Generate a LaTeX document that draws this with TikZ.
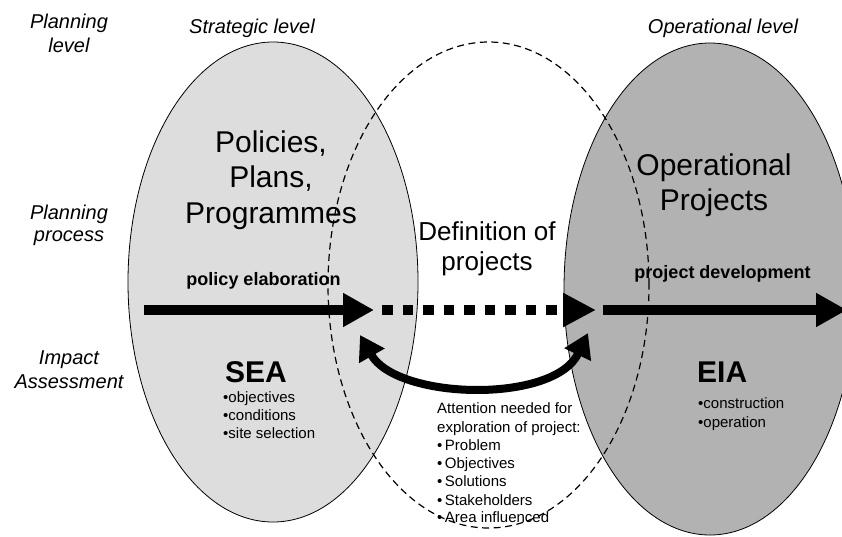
\documentclass[tikz,border=0pt]{standalone}
\usepackage{fontspec}
\setmainfont{Liberation Sans}
\usetikzlibrary{arrows.meta,shapes.geometric}
\definecolor{lightfill}{RGB}{221,221,221}
\definecolor{darkfill}{RGB}{178,178,178}
\tikzset{
  oval/.style={ellipse, draw=black, line width=0.8pt, inner sep=0pt},
  dashoval/.style={ellipse, draw=black, line width=1.2pt, dash pattern=on 7pt off 4.5pt, inner sep=0pt},
  sidelbl/.style={anchor=base, inner sep=0pt, font=\fontsize{20}{23}\selectfont\itshape},
  bigtxt/.style={anchor=base, inner sep=0pt, font=\fontsize{30}{35}\selectfont},
  midtxt/.style={anchor=base, inner sep=0pt, font=\fontsize{26}{30}\selectfont},
  arrlbl/.style={anchor=base, inner sep=0pt, font=\fontsize{18}{21}\selectfont\bfseries},
  boldbig/.style={anchor=base west, inner sep=0pt, font=\fontsize{30}{35}\selectfont\bfseries},
  smalltxt/.style={anchor=base west, inner sep=0pt, font=\fontsize{15}{18}\selectfont},
  mainarrow/.style={line width=10pt, -{Triangle[length=31pt,width=32pt]}},
  dotarrow/.style={line width=10pt, dash pattern=on 10.5pt off 10pt, -{Triangle[length=33pt,width=32pt]}},
  bendarrow/.style={line width=8pt, {Triangle[length=24pt,width=28pt]}-{Triangle[length=24pt,width=28pt]}}
}
\begin{document}
\begin{tikzpicture}[x=1pt,y=-1pt]
\useasboundingbox (0,0) rectangle (842,536);
% ellipses
\node[oval, fill=lightfill, minimum width=290pt, minimum height=480pt] (sea) at (273,282) {};
\node[oval, fill=darkfill, minimum width=292pt, minimum height=492pt] (eia) at (710,289) {};
% side labels
\node[sidelbl] (pl1) at (69,28) {Planning};
\node[sidelbl] (pl2) at (69,52) {level};
\node[sidelbl] (pp1) at (69,219) {Planning};
\node[sidelbl] (pp2) at (69,241) {process};
\node[sidelbl] (ia1) at (69,364) {Impact};
\node[sidelbl] (ia2) at (69,388) {Assessment};
\node[sidelbl] (strat) at (252,33) {Strategic level};
\node[sidelbl] (oper) at (723,33) {Operational level};
% big texts
\node[bigtxt] (ppp1) at (271,152) {Policies,};
\node[bigtxt] (ppp2) at (271,187) {Plans,};
\node[bigtxt] (ppp3) at (271,223) {Programmes};
\node[bigtxt] (op1) at (714,175) {Operational};
\node[bigtxt] (op2) at (714,210) {Projects};
\node[midtxt] (def1) at (487,240) {Definition of};
\node[midtxt] (def2) at (487,270) {projects};
\node[arrlbl] (pel) at (263.5,285) {policy elaboration};
\node[arrlbl] (pdev) at (722.5,278) {project development};
% SEA
\node[boldbig] (seat) at (225,382) {SEA};
\node[smalltxt] (s1) at (223,402) {•objectives};
\node[smalltxt] (s2) at (223,420) {•conditions};
\node[smalltxt] (s3) at (223,438) {•site selection};
% EIA
\node[boldbig] (eiat) at (697,382) {EIA};
\node[smalltxt] (e1) at (698,408) {•construction};
\node[smalltxt] (e2) at (698,427) {•operation};
% attention list
\node[smalltxt] (a1) at (437,413) {Attention needed for};
\node[smalltxt] (a2) at (437,432) {exploration of project:};
\node[smalltxt] (a3) at (437,450) {•\,Problem};
\node[smalltxt] (a4) at (437,468) {•\,Objectives};
\node[smalltxt] (a5) at (437,486) {•\,Solutions};
\node[smalltxt] (a6) at (437,505) {•\,Stakeholders};
\node[smalltxt] (a7) at (437,522) {•\,Area influenced};
% dashed ellipse
\node[dashoval, minimum width=321pt, minimum height=486pt] (def) at (488.5,285) {};
% arrows
\coordinate (l0) at (144,310);
\coordinate (l1) at (374,310);
\coordinate (m0) at (382,310);
\coordinate (m1) at (596,310);
\coordinate (r0) at (603,310);
\coordinate (r1) at (847,310);
\draw[mainarrow] (l0) -- (l1);
\draw[dotarrow] (m0) -- (m1);
\draw[mainarrow] (r0) -- (r1);
\coordinate (cl) at (360,335);
\coordinate (cr) at (588,333);
\draw[bendarrow] (cl) .. controls (397,400) and (554,404) .. (cr);
\end{tikzpicture}
\end{document}
